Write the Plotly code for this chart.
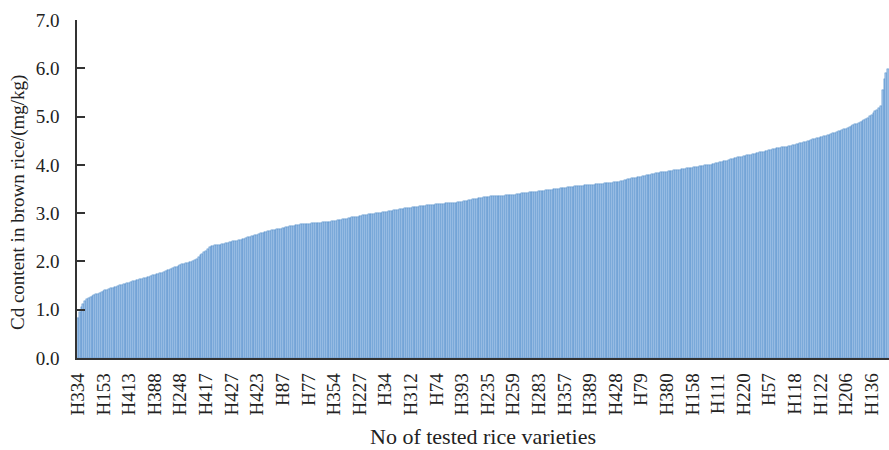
import plotly.graph_objects as go

# Sorted Cd content of tested rice varieties (mg/kg)
cd_values = [
    0.82, 0.95, 1.05, 1.12, 1.18,
    1.22, 1.25, 1.27, 1.29, 1.30, 1.32, 1.33, 1.35,
    1.37, 1.38, 1.40, 1.41, 1.42, 1.44, 1.45, 1.47,
    1.48, 1.50, 1.51, 1.52, 1.53, 1.54, 1.55, 1.56, 1.58,
    1.59, 1.60, 1.61, 1.62, 1.63, 1.64, 1.65, 1.66, 1.67, 1.68, 1.70,
    1.71, 1.72, 1.73, 1.75, 1.76, 1.77, 1.78, 1.80,
    1.82, 1.83, 1.85, 1.86, 1.88, 1.89, 1.91, 1.93,
    1.94, 1.95, 1.96, 1.97, 1.98, 1.99, 2.01, 2.03,
    2.06, 2.10, 2.13, 2.16, 2.19, 2.22, 2.26, 2.30,
    2.31, 2.32, 2.33, 2.34, 2.35, 2.35, 2.36, 2.37, 2.38,
    2.39, 2.40, 2.41, 2.42, 2.42, 2.43, 2.44, 2.45,
    2.46, 2.47, 2.48, 2.50, 2.51,
    2.52, 2.53, 2.54, 2.55, 2.56, 2.58, 2.59,
    2.60, 2.61, 2.62, 2.64,
    2.65, 2.65, 2.66, 2.67, 2.67, 2.68, 2.69, 2.70,
    2.71, 2.72, 2.73, 2.74, 2.74, 2.75, 2.76,
    2.76, 2.77, 2.77, 2.77, 2.78, 2.78, 2.78,
    2.79, 2.79, 2.79, 2.80, 2.80, 2.80, 2.81, 2.81, 2.81, 2.82, 2.82,
    2.83, 2.83, 2.84, 2.85, 2.85, 2.86, 2.87, 2.87, 2.88, 2.89, 2.90,
    2.91, 2.91, 2.92, 2.93, 2.94, 2.95, 2.96, 2.97,
    2.97, 2.98, 2.98, 2.99, 2.99, 3.00, 3.00, 3.01, 3.01,
    3.02, 3.03, 3.03, 3.04, 3.05, 3.05, 3.06, 3.07, 3.07, 3.08, 3.09,
    3.09, 3.10, 3.10, 3.11, 3.11, 3.12, 3.12, 3.13, 3.13, 3.14, 3.14,
    3.15, 3.15, 3.16, 3.16, 3.16, 3.17, 3.17, 3.18, 3.18, 3.19, 3.19,
    3.19, 3.20, 3.20, 3.21, 3.21, 3.21, 3.22, 3.22, 3.23, 3.23,
    3.24, 3.25, 3.26, 3.26, 3.27, 3.28, 3.29, 3.30, 3.30,
    3.31, 3.32, 3.32, 3.33, 3.33, 3.34, 3.34, 3.35,
    3.35, 3.35, 3.35, 3.36, 3.36, 3.36, 3.36, 3.37, 3.37, 3.37, 3.37,
    3.38, 3.38, 3.39, 3.39, 3.40, 3.41, 3.41, 3.42,
    3.42, 3.43, 3.43, 3.43, 3.44, 3.44, 3.45, 3.45,
    3.46, 3.46, 3.47, 3.47, 3.48, 3.48, 3.49, 3.50, 3.50, 3.51, 3.52,
    3.52, 3.53, 3.53, 3.54, 3.54, 3.55, 3.55, 3.56, 3.56, 3.57, 3.57,
    3.57, 3.58, 3.58, 3.58, 3.59, 3.59, 3.59, 3.60, 3.60, 3.61, 3.61,
    3.61, 3.62, 3.62, 3.62, 3.63, 3.63, 3.64, 3.64, 3.65, 3.65, 3.66,
    3.67, 3.68, 3.69, 3.70, 3.71, 3.72, 3.72, 3.73, 3.74, 3.74, 3.75,
    3.76, 3.77, 3.78, 3.79, 3.80, 3.81, 3.82, 3.83,
    3.84, 3.84, 3.85, 3.85, 3.86, 3.86, 3.87, 3.88,
    3.88, 3.89, 3.89, 3.90, 3.90, 3.91, 3.91, 3.92,
    3.93, 3.93, 3.94, 3.94, 3.95, 3.95, 3.96, 3.97, 3.98,
    3.98, 3.99, 3.99, 4.00, 4.00,
    4.01, 4.02, 4.03, 4.04, 4.05, 4.06, 4.07, 4.08, 4.09, 4.10, 4.12,
    4.13, 4.14, 4.15, 4.16, 4.17, 4.17, 4.18, 4.19, 4.20, 4.20, 4.21,
    4.22, 4.23, 4.24, 4.25, 4.26, 4.26, 4.27, 4.28, 4.29, 4.30, 4.31,
    4.32, 4.33, 4.34, 4.34, 4.35, 4.36, 4.37, 4.38, 4.38, 4.39, 4.40,
    4.41, 4.42, 4.43, 4.44, 4.45, 4.46, 4.47, 4.48, 4.49, 4.50, 4.52,
    4.53, 4.54, 4.55, 4.56, 4.57, 4.58, 4.59, 4.60, 4.61, 4.62, 4.64,
    4.65, 4.67, 4.68, 4.70, 4.71, 4.72, 4.74, 4.75, 4.77, 4.78, 4.80,
    4.82, 4.84, 4.85, 4.87, 4.89, 4.91, 4.93, 4.95,
    4.98, 5.01, 5.04, 5.08, 5.11, 5.14, 5.17, 5.21,
    5.56, 5.78, 5.90, 5.99,
]

# Variety labels shown on the x axis (every 14th bar)
tick_labels = [
    "H334", "H153", "H413", "H388", "H248", "H417", "H427", "H423",
    "H87", "H77", "H354", "H227", "H34", "H312", "H74", "H393",
    "H235", "H259", "H283", "H357", "H389", "H428", "H79", "H380",
    "H158", "H111", "H220", "H57", "H118", "H122", "H206", "H136",
]
label_step = 14

n = len(cd_values)
x_idx = list(range(n))
tick_pos = [i * label_step for i in range(len(tick_labels))]

FONT = "Liberation Serif, Times New Roman, serif"

fig = go.Figure()
fig.add_trace(go.Bar(
    x=x_idx,
    y=cd_values,
    marker=dict(color="#a2c3e8", line=dict(color="#3d7dc6", width=0.4)),
    hoverinfo="y",
))

fig.update_layout(
    width=889, height=450,
    margin=dict(l=77, r=0, t=20, b=92),
    paper_bgcolor="white", plot_bgcolor="white",
    bargap=0,
    showlegend=False,
    font=dict(family=FONT, size=19, color="#222222"),
)

fig.update_xaxes(
    range=[-0.5, n - 0.5],
    tickmode="array", tickvals=tick_pos, ticktext=tick_labels,
    tickangle=-90, tickfont=dict(family=FONT, size=19, color="#222222"),
    ticklabelstandoff=6,
    showline=True, linecolor="#333333", linewidth=1.5,
    ticks="", showgrid=False, zeroline=False,
)
fig.update_yaxes(
    range=[0, 7], dtick=1, tickformat=".1f",
    tickfont=dict(family=FONT, size=19, color="#222222"),
    showline=True, linecolor="#333333", linewidth=1.5,
    ticks="inside", ticklen=8, tickwidth=1.5, tickcolor="#333333",
    ticklabelstandoff=12,
    showgrid=False, zeroline=False,
)

fig.add_annotation(
    text="Cd content in brown rice/(mg/kg)",
    xref="paper", yref="paper",
    x=(18 - 77) / 812, y=(358 - 203) / 338,
    xanchor="center", yanchor="middle", textangle=-90,
    showarrow=False, font=dict(family=FONT, size=19, color="#222222"),
)
fig.add_annotation(
    text="No of tested rice varieties",
    xref="paper", yref="paper",
    x=0.5, y=(358 - 436) / 338,
    xanchor="center", yanchor="middle",
    showarrow=False, font=dict(family=FONT, size=22, color="#222222"),
)

fig.write_html(
    "out.html",
    config={"displayModeBar": False},
    post_script="document.body.style.margin='0px';document.body.style.overflow='hidden';",
)
